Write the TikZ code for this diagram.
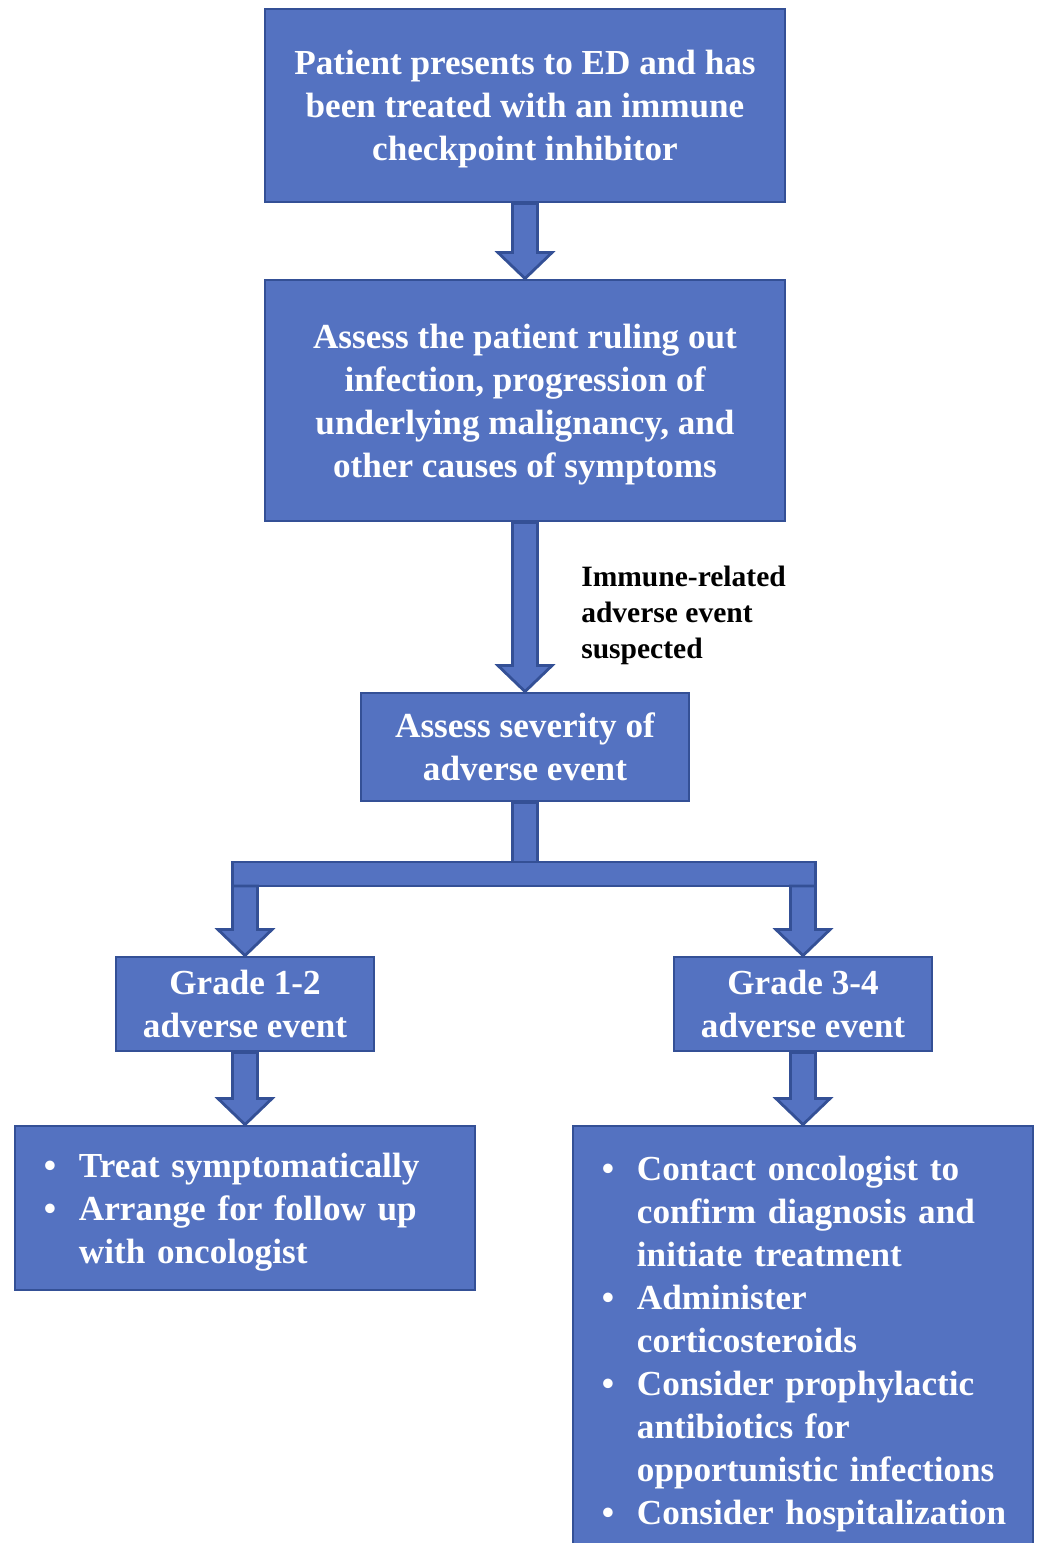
\documentclass[tikz,border=0pt]{standalone}
\usepackage{fontspec}
\setmainfont{Liberation Serif}
\usetikzlibrary{calc}

\definecolor{boxfill}{RGB}{84,114,193}
\definecolor{boxline}{RGB}{52,80,150}

\newcommand{\bul}{\makebox[0.875cm][l]{\textbullet}}
\newcommand{\ind}{\hspace*{0.875cm}}
\newcommand{\tstr}{\rule{0pt}{23pt}}
% down block arrow from #1 to the tip at #2
\newcommand{\blkarrow}[2]{%
  \filldraw[blk] let \p1=(#1), \p2=(#2) in
    (\x1-0.3125cm,\y1) -- (\x1-0.3125cm,\y2+0.65cm) -- (\x1-0.675cm,\y2+0.65cm)
    -- (\x1,\y2) -- (\x1+0.675cm,\y2+0.65cm) -- (\x1+0.3125cm,\y2+0.65cm)
    -- (\x1+0.3125cm,\y1) -- cycle;}

\begin{document}
\begin{tikzpicture}[
    x=0.025cm, y=-0.025cm,
    box/.style={draw=boxline, fill=boxfill, line width=2pt, text=white,
                align=center, inner sep=0pt,
                font=\fontsize{25}{30.6}\selectfont\bfseries},
    listbox/.style={box, align=left, inner xsep=0.725cm, text width=10.05cm},
    blk/.style={draw=boxline, fill=boxfill, line width=2pt},
    note/.style={align=left, anchor=west, inner sep=0pt,
                 font=\fontsize{21}{25.6}\selectfont\bfseries},
  ]
  \path[use as bounding box, clip] (0,0) rectangle (1044,1543);

  \node[box, minimum width=13cm, minimum height=4.825cm] (ed) at (525,105.5)
    {\tstr Patient presents to ED and has\\
     been treated with an immune\\
     checkpoint inhibitor};
  \node[box, minimum width=13cm, minimum height=6.025cm] (assess) at (525,400.5)
    {\tstr Assess the patient ruling out\\
     infection, progression of\\
     underlying malignancy, and\\
     other causes of symptoms};
  \node[note] (irae) at (581,615)
    {Immune-related\\adverse event\\suspected};
  \node[box, minimum width=8.2cm, minimum height=2.7cm] (sev) at (525,747)
    {Assess severity of\\adverse event};
  \node[box, minimum width=6.45cm, minimum height=2.35cm] (g12) at (245,1004)
    {Grade 1-2\\adverse event};
  \node[box, minimum width=6.45cm, minimum height=2.35cm] (g34) at (803,1004)
    {Grade 3-4\\adverse event};
  \node[listbox, minimum width=11.5cm, minimum height=4.1cm] (act12) at (245,1208)
    {\tstr\bul Treat symptomatically\\
     \bul Arrange for follow up\\
     \ind with oncologist};
  \node[listbox, minimum width=11.5cm, minimum height=10.9cm] (act34) at (803,1344)
    {\bul Contact oncologist to\\
     \ind confirm diagnosis and\\
     \ind initiate treatment\\
     \bul Administer\\
     \ind corticosteroids\\
     \bul Consider prophylactic\\
     \ind antibiotics for\\
     \ind \mbox{opportunistic infections}\\
     \bul \mbox{Consider hospitalization}};

  \blkarrow{ed.south}{assess.north}
  \blkarrow{assess.south}{sev.north}

  % split to the two grades
  \coordinate (barT) at (525,862);
  \coordinate (barB) at (525,886);
  \filldraw[blk] let \p1=(sev.south), \p2=(barT) in
    (\x1-0.3125cm,\y1) rectangle (\x1+0.3125cm,\y2);
  \filldraw[blk] let \p1=(g12.north |- barT), \p2=(g34.north |- barB) in
    (\x1-0.3125cm,\y1) rectangle (\x2+0.3125cm,\y2);
  \blkarrow{g12.north |- barB}{g12.north}
  \blkarrow{g34.north |- barB}{g34.north}

  \blkarrow{g12.south}{act12.north}
  \blkarrow{g34.south}{act34.north}
\end{tikzpicture}
\end{document}
